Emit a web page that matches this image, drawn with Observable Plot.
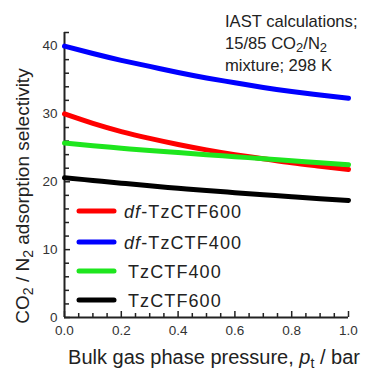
<!DOCTYPE html>
<html><head><meta charset="utf-8">
<script src="https://cdn.jsdelivr.net/npm/d3@7"></script>
<script src="https://cdn.jsdelivr.net/npm/@observablehq/plot@0.6"></script>
<style>body{margin:0;background:#fff;font-family:"Liberation Sans",Arial,sans-serif}</style>
</head><body><div id="chart"></div>
<script>
const pressure = [0, 0.1, 0.2, 0.3, 0.4, 0.5, 0.6, 0.7, 0.8, 0.9, 1.0];
const dfTzCTF600 = [30.0, 28.6, 27.4, 26.4, 25.5, 24.7, 24.0, 23.4, 22.8, 22.3, 21.8];
const dfTzCTF400 = [40.0, 38.9, 37.9, 37.0, 36.1, 35.3, 34.6, 33.9, 33.3, 32.8, 32.3];
const TzCTF400 = [25.7, 25.3, 24.95, 24.6, 24.3, 24.0, 23.7, 23.4, 23.1, 22.8, 22.5];
const TzCTF600 = [20.6, 20.2, 19.8, 19.4, 19.05, 18.7, 18.4, 18.1, 17.8, 17.5, 17.25];
const seriesNames = ["df-TzCTF600", "df-TzCTF400", "TzCTF400", "TzCTF600"];
const seriesColors = ["#ff0000", "#0000ff", "#1ee61e", "#000000"];
const seriesValues = [dfTzCTF600, dfTzCTF400, TzCTF400, TzCTF600];
const xTicks = [0, 0.2, 0.4, 0.6, 0.8, 1.0];
const xMinor = [0.05, 0.1, 0.15, 0.25, 0.3, 0.35, 0.45, 0.5, 0.55, 0.65, 0.7, 0.75, 0.85, 0.9, 0.95];
const yTicks = [0, 10, 20, 30, 40];
const yMinor = [2, 4, 6, 8, 12, 14, 16, 18, 22, 24, 26, 28, 32, 34, 36, 38, 42];

const rows = [];
seriesNames.forEach((s, i) => pressure.forEach((p, j) => rows.push({series: s, p, v: seriesValues[i][j]})));

const axisColor = "#333";
const plot = Plot.plot({
  width: 373, height: 370,
  marginLeft: 64, marginRight: 25, marginTop: 32, marginBottom: 53,
  style: {fontFamily: "Liberation Sans, Arial, sans-serif", fontSize: "13.5px", color: axisColor, background: "#fff"},
  x: {domain: [0, 1], label: null},
  y: {domain: [0, 42], label: null},
  color: {domain: seriesNames, range: seriesColors},
  marks: [
    Plot.axisX({ticks: xTicks, tickSize: 0, tickPadding: 8, tickFormat: d3.format(".1f"), fill: axisColor}),
    Plot.axisY({ticks: yTicks, tickSize: 0, tickPadding: 7, fill: axisColor}),
    Plot.axisX({ticks: xMinor, tickSize: 4, dy: -4, tickFormat: null, text: null, stroke: "#222", strokeWidth: 1.5}),
    Plot.axisX({ticks: xTicks, tickSize: 6, dy: -6, tickFormat: null, text: null, stroke: "#222", strokeWidth: 1.5}),
    Plot.axisY({ticks: yMinor, tickSize: 5, dx: 5, tickFormat: null, text: null, stroke: "#222", strokeWidth: 1.5}),
    Plot.axisY({ticks: yTicks, tickSize: 6, dx: 6, tickFormat: null, text: null, stroke: "#222", strokeWidth: 1.5}),
    Plot.ruleX([0], {y1: 0, y2: 42, stroke: "#222", strokeWidth: 2}),
    Plot.ruleY([0], {x1: 0, x2: 1, stroke: "#222", strokeWidth: 2}),
    Plot.line(rows, {x: "p", y: "v", z: "series", stroke: "series", strokeWidth: 5, curve: "natural"})
  ]
});
document.getElementById("chart").appendChild(plot);

const svg = d3.select(plot);
const F = "Liberation Sans, Arial, sans-serif";
function sub(t, s, fs) { t.append("tspan").attr("baseline-shift", "-25%").style("font-size", fs).text(s); }
const ann = svg.append("g").style("font-family", F).style("font-size", "16.6px").attr("fill", "#222").attr("text-anchor", "start");
ann.append("text").attr("x", 225).attr("y", 27).text("IAST calculations;");
const a2 = ann.append("text").attr("x", 225).attr("y", 49);
a2.append("tspan").text("15/85 CO"); sub(a2, "2", "13px");
a2.append("tspan").text("/N"); sub(a2, "2", "13px");
ann.append("text").attr("x", 225).attr("y", 71).text("mixture; 298 K");

const legY = [211, 242, 271, 300];
const leg = svg.append("g").style("font-family", F).style("font-size", "18px").style("letter-spacing", "1.1px")
  .attr("fill", "#222").attr("text-anchor", "start");
seriesNames.forEach((s, i) => {
  leg.append("line").attr("x1", 79).attr("x2", 114).attr("y1", legY[i]).attr("y2", legY[i])
    .attr("stroke", seriesColors[i]).attr("stroke-width", 5).attr("stroke-linecap", "round");
  const t = leg.append("text").attr("x", s.startsWith("df-") ? 124 : 128).attr("y", legY[i] + 6.5);
  if (s.startsWith("df-")) {
    t.append("tspan").style("font-style", "italic").text("df");
    t.append("tspan").text(s.slice(2));
  } else t.text(s);
});

const xl = svg.append("text").attr("x", 214).attr("y", 364).attr("text-anchor", "middle")
  .style("font-family", F).style("font-size", "20px").attr("fill", "#222");
xl.append("tspan").text("Bulk gas phase pressure, ");
xl.append("tspan").style("font-style", "italic").text("p");
sub(xl, "t", "14px");
xl.append("tspan").text(" / bar");

const yl = svg.append("text").attr("transform", "translate(29,196) rotate(-90)").attr("text-anchor", "middle")
  .style("font-family", F).style("font-size", "19px").attr("fill", "#222");
yl.append("tspan").text("CO"); sub(yl, "2", "14px");
yl.append("tspan").text(" / N"); sub(yl, "2", "14px");
yl.append("tspan").text(" adsorption selectivity");
</script></body></html>
